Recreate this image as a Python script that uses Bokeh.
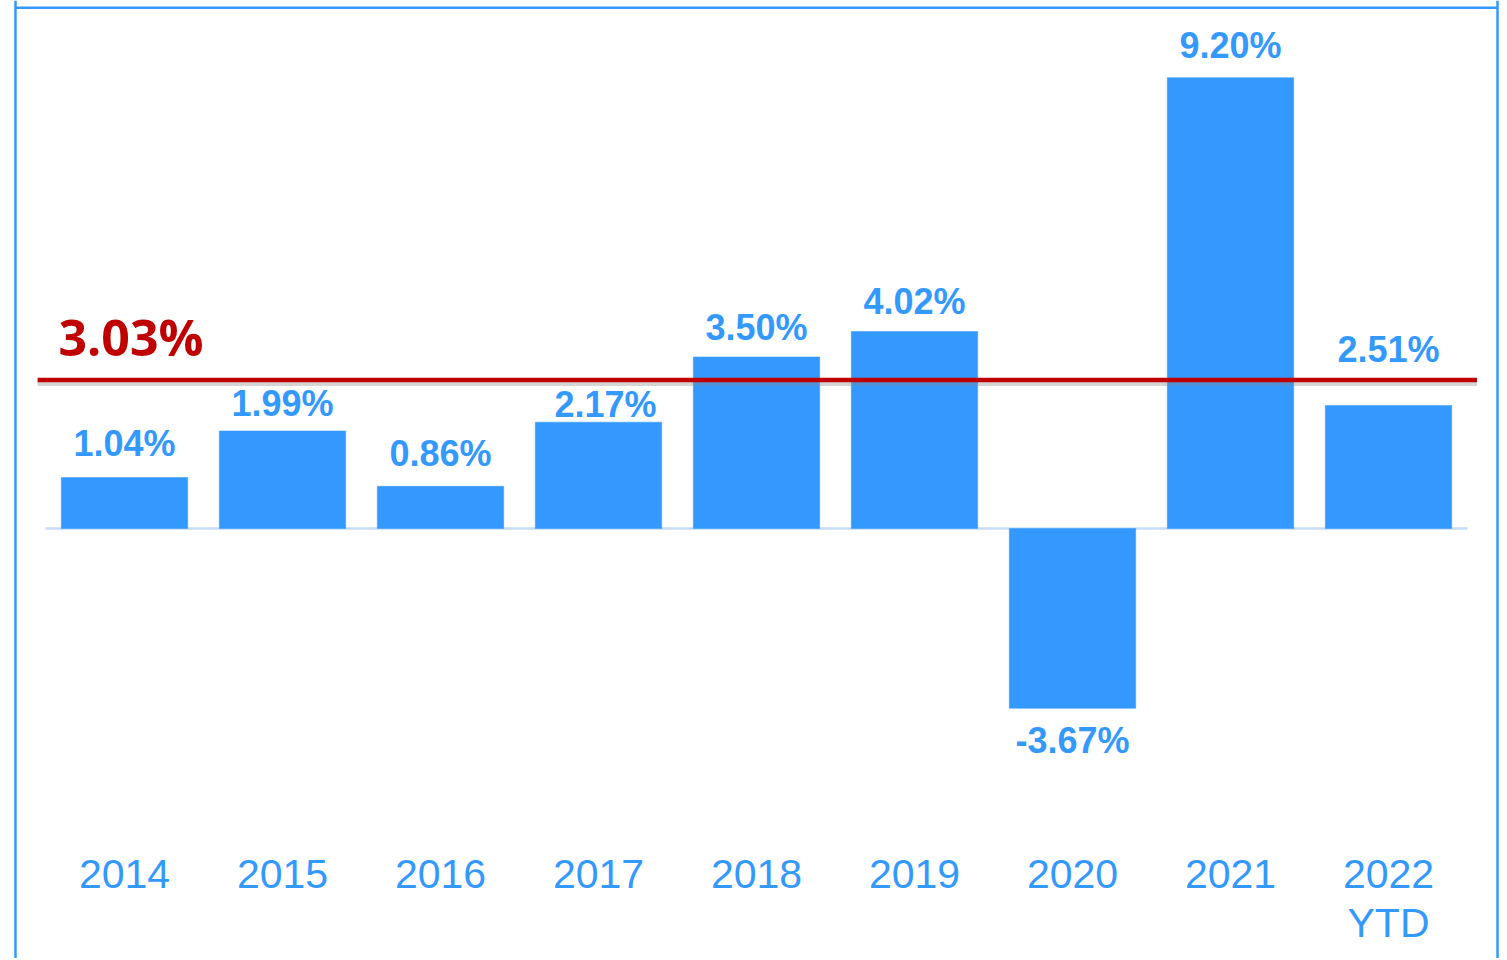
from bokeh.plotting import figure
from bokeh.models import Range1d, Span, ColumnDataSource
from bokeh.core.properties import value
from bokeh.embed import file_html
from bokeh.resources import INLINE

# ---- data ----
categories = ["2014", "2015", "2016", "2017", "2018", "2019", "2020", "2021", "2022\nYTD"]
returns = [1.04, 1.99, 0.86, 2.17, 3.50, 4.02, -3.67, 9.20, 2.51]
value_labels = ["1.04%", "1.99%", "0.86%", "2.17%", "3.50%", "4.02%", "-3.67%", "9.20%", "2.51%"]
average = 3.03
average_label = "3.03%"

# ---- style / layout (pixels) ----
label_lift = [21, 15, 20, 5, 17, 17, -45, 19, 43]   # label baseline distance from bar end
label_dx = [0, 0, 0, 7, 0, 0, 0, 0, 0]
BLUE = "#3399FF"
RED = "#C00000"
ZERO = "#C6DDF7"

def base_fix(size):
    # empirical baseline correction for svg text
    return -0.36 * size

xs = list(range(len(categories)))

p = figure(width=1505, height=958, output_backend="svg", toolbar_location=None,
           x_range=Range1d(-0.78481, 8.74051), y_range=Range1d(-8.7755, 10.7755),
           min_border=0, min_border_left=0, min_border_right=0,
           min_border_top=0, min_border_bottom=0)
p.xaxis.visible = False
p.yaxis.visible = False
p.grid.visible = False
p.outline_line_color = None
p.background_fill_color = "white"
p.border_fill_color = "white"

# frame border (left, right, top)
for xb in (-0.69, 8.69):
    p.add_layout(Span(location=xb, dimension="height", line_color=BLUE, line_width=2.5))
p.segment(x0=[-0.69], y0=[10.63], x1=[8.69], y1=[10.63], line_color=BLUE, line_width=2.5)

# zero line
p.segment(x0=[-0.5], y0=[0], x1=[8.5], y1=[0], line_color=ZERO, line_width=2.5)

line1 = [c.split("\n")[0] for c in categories]
line2 = [c.split("\n")[1] if "\n" in c else "" for c in categories]

src = ColumnDataSource(dict(x=xs, top=returns, lab=value_labels,
                            off=[-l + base_fix(36) for l in label_lift], dx=label_dx,
                            c1=line1, c2=line2))

p.vbar(x="x", top="top", bottom=0, width=0.8, source=src,
       fill_color=BLUE, line_color=BLUE, line_width=0.5)

# average line with shadow
p.segment(x0=[-0.55], y0=[average - 0.07], x1=[8.56], y1=[average - 0.07],
          line_color="#888888", line_alpha=0.35, line_width=5)
p.segment(x0=[-0.55], y0=[average], x1=[8.56], y1=[average],
          line_color=RED, line_width=4.5)

p.text(x=[-0.4177], y=[average], text=[average_label], y_offset=-25.5 + base_fix(50),
       text_font=value("Open Sans"), text_font_style="bold", text_font_size="50px",
       text_color=RED, text_align="left", text_baseline="alphabetic")

# value labels
p.text(x="x", y="top", text="lab", x_offset="dx", y_offset="off", source=src,
       text_font=value("Liberation Sans"), text_font_style="bold", text_font_size="36px",
       text_color=BLUE, text_align="center", text_baseline="alphabetic")

# category labels (two lines)
cat_y = -7.347
p.text(x="x", y=cat_y, text="c1", source=src, y_offset=base_fix(41),
       text_font=value("Liberation Sans"), text_font_size="41px",
       text_color=BLUE, text_align="center", text_baseline="alphabetic")
p.text(x="x", y=cat_y, text="c2", source=src, y_offset=49 + base_fix(41),
       text_font=value("Liberation Sans"), text_font_size="41px",
       text_color=BLUE, text_align="center", text_baseline="alphabetic")

open("out.html", "w").write(file_html(p, INLINE))
